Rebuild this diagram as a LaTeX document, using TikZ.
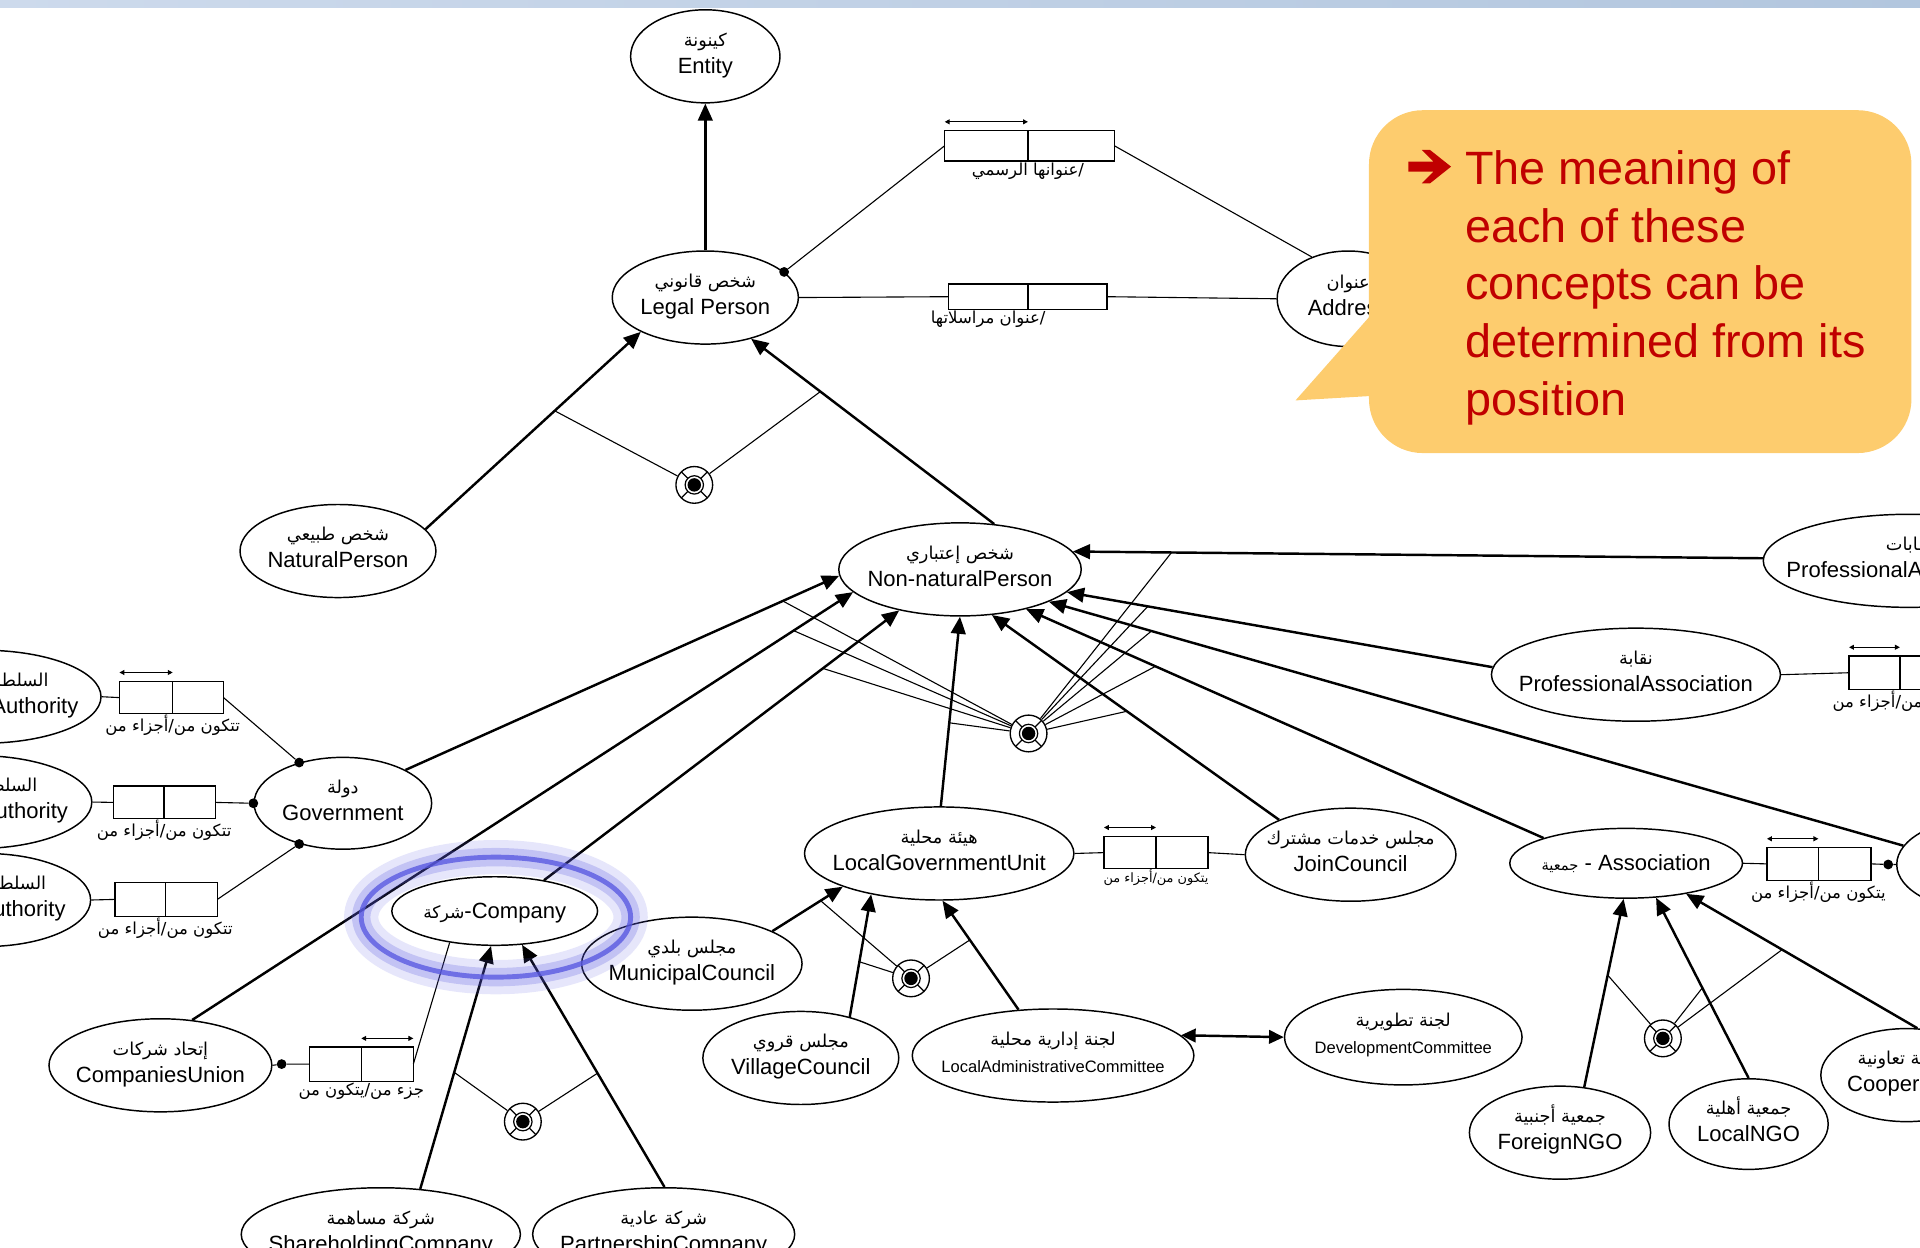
\documentclass[tikz,border=0pt]{standalone}
\usepackage{fontspec}
\setmainfont{Liberation Sans}
\newfontfamily\arfont[Script=Arabic]{DejaVu Sans}
\usetikzlibrary{shapes,arrows.meta,positioning}
\TeXXeTstate=1
\definecolor{globo}{RGB}{253,204,110}
\definecolor{rojo}{RGB}{192,0,0}
\definecolor{glowblue}{RGB}{90,90,225}
\newcommand{\artxt}[2][14.5]{{\arfont\fontsize{#1}{#1}\selectfont\beginR #2\endR}}
\newcommand{\cname}[3][18]{\smash{\makebox[0pt]{\raisebox{-3pt}{\begin{tabular}{@{}c@{}}\artxt{#2}\\[2pt]\fontsize{#1}{20}\selectfont #3\end{tabular}}}}}
\newcommand{\cone}[1]{\smash{\makebox[0pt]{\raisebox{-6pt}{#1}}}}

\begin{document}
\begin{tikzpicture}[x=1pt,y=-1pt]

    \tikzset{concept/.style = {ellipse,draw,line width=1.2pt,fill=white,inner sep=0pt,font=\fontsize{18}{20}\selectfont}}
    \tikzset{cell/.style = {rectangle,draw,line width=1.1pt,fill=white,inner sep=0pt,outer sep=0pt}}
    \tikzset{attrlabel/.style = {inner sep=1pt,font=\arfont\fontsize{13.5}{14}\selectfont}}
    \tikzset{isa/.style = {-{Triangle[length=14pt,width=12pt]},line width=2pt}}
    \tikzset{link/.style = {line width=0.9pt}}
    \tikzset{cardinal/.style = {{Triangle[length=4pt,width=4pt]}-{Triangle[length=4pt,width=4pt]},line width=0.9pt}}
    \tikzset{punto/.style = {circle,fill,inner sep=0pt,minimum size=8pt}}
    \tikzset{disjoint/.style = {circle,draw,fill=white,line width=1.1pt,minimum size=30pt,inner sep=0pt,
        path picture={
            \fill[black] (path picture bounding box.center) circle (5.5pt);
            \draw[black,line width=1pt] (path picture bounding box.center) circle (7.5pt);
            \foreach \a in {45,135,225,315}
                \draw[black,line width=1pt] ([shift={(\a:7.5pt)}]path picture bounding box.center)
                    -- ([shift={(\a:15pt)}]path picture bounding box.center);
        }}}

    \useasboundingbox (0,0) rectangle (1568,1019);
    \clip (0,0) rectangle (1568,1019);
    \shade [left color={rgb,255:red,205;green,218;blue,236}, middle color={rgb,255:red,150;green,178;blue,208},
        right color={rgb,255:red,178;green,198;blue,222}] (0,0) rectangle (1568,6);

    %top of the hierarchy
    \node [concept, minimum width=122, minimum height=76] (entity) at (576,46) {\cname{كينونة}{Entity}};
    \node [concept, minimum width=152, minimum height=76] (legal) at (576,243) {\cname{شخص قانوني}{Legal Person}};
    \node [concept, minimum width=116, minimum height=78] (address) at (1101,244) {\cname{عنوان}{Address}};
    \node [concept, minimum width=160, minimum height=76] (natural) at (276,450) {\cname{شخص طبيعي}{NaturalPerson}};
    \node [concept, minimum width=198, minimum height=76] (nonnat) at (784,465) {\cname{شخص إعتباري}{Non-naturalPerson}};

    %right column
    \node [concept, minimum width=238, minimum height=76] (profassocs) at (1559,458) {\cname{نقابات}{ProfessionalAssociations}};
    \node [concept, minimum width=236, minimum height=76] (profassoc) at (1336,551) {\cname{نقابة}{ProfessionalAssociation}};
    \node [concept, minimum width=172, minimum height=76] (joincouncil) at (1103,698) {\cname{مجلس خدمات مشترك}{JoinCouncil}};
    \node [concept, minimum width=190, minimum height=57] (association) at (1328,705) {\cone{\artxt[12]{جمعية} - Association}};
    \node [concept, minimum width=144, minimum height=76] (rightunion) at (1621,706) {};
    \node [concept, minimum width=148, minimum height=76] (foreign) at (1274,925) {\cname{جمعية أجنبية}{ForeignNGO}};
    \node [concept, minimum width=130, minimum height=74] (localngo) at (1428,918) {\cname{جمعية أهلية}{LocalNGO}};
    \node [concept, minimum width=140, minimum height=76] (coop) at (1557,878) {\cname{جمعية تعاونية}{Cooperative}};

    %government side
    \node [concept, minimum width=145, minimum height=75] (gov) at (280,656) {\cname{دولة}{Government}};
    \node [concept, minimum width=193, minimum height=76] (auth1) at (-14,569) {\cname{السلطة التشريعية}{LegislativeAuthority}};
    \node [concept, minimum width=188, minimum height=76] (auth2) at (-19,655) {\cname{السلطة التنفيذية}{ExecutiveAuthority}};
    \node [concept, minimum width=172, minimum height=76] (auth3) at (-12,735) {\cname{السلطة القضائية}{JudicialAuthority}};

    %companies
    \node [concept, minimum width=168, minimum height=56] (company) at (404,744) {\cone{\artxt[14]{شركة}-Company}};
    \node [concept, minimum width=182, minimum height=76] (compunion) at (131,870) {\cname{إتحاد شركات}{CompaniesUnion}};
    \node [concept, minimum width=228, minimum height=76] (share) at (311,1008) {\cname{شركة مساهمة}{ShareholdingCompany}};
    \node [concept, minimum width=214, minimum height=76] (partner) at (542,1008) {\cname{شركة عادية}{PartnershipCompany}};

    %local government
    \node [concept, minimum width=180, minimum height=76] (municipal) at (565,787) {\cname{مجلس بلدي}{MunicipalCouncil}};
    \node [concept, minimum width=220, minimum height=76] (lgu) at (767,697) {\cname{هيئة محلية}{LocalGovernmentUnit}};
    \node [concept, minimum width=160, minimum height=76] (village) at (654,864) {\cname{مجلس قروي}{VillageCouncil}};
    \node [concept, minimum width=230, minimum height=76] (localadmin) at (860,862) {\cname[13.5]{لجنة إدارية محلية}{LocalAdministrativeCommittee}};
    \node [concept, minimum width=194, minimum height=78] (devcomm) at (1146,847) {\cname[13.5]{لجنة تطويرية}{DevelopmentCommittee}};

    %is-a arrows
    \draw [isa] (legal) -- (entity);
    \draw [isa] (natural.14) -- coordinate[pos=0.6] (n1) (legal.208);
    \draw [isa] (nonnat.53) -- coordinate[pos=0.715] (n2) (legal.318);
    \draw [isa] (profassocs.179) -- coordinate[pos=0.857] (f9) (nonnat.9);
    \draw [isa] (profassoc.177) -- coordinate[pos=0.81] (f8) (nonnat.348);
    \draw [isa] (rightunion.167) -- coordinate[pos=0.88] (f7) (nonnat.340);
    \draw [isa] (association.163) -- coordinate[pos=0.75] (f6) (nonnat.329);
    \draw [isa] (joincouncil.154) -- coordinate[pos=0.53] (f5) (nonnat.305);
    \draw [isa] (lgu.88) -- coordinate[pos=0.44] (f4) (nonnat.270);
    \draw [isa] (company.32) -- coordinate[pos=0.785] (f3) (nonnat.214);
    \draw [isa] (compunion.55) -- coordinate[pos=0.91] (f2) (nonnat.192);
    \draw [isa] (gov.28) -- coordinate[pos=0.87] (f1) (nonnat.183);
    \draw [isa] (municipal.22) -- coordinate[pos=0.685] (m1) (lgu.199);
    \draw [isa] (village.40) -- coordinate[pos=0.45] (m2) (lgu.211);
    \draw [isa] (localadmin.127) -- coordinate[pos=0.64] (m3) (lgu.274);
    \draw [isa, {Triangle[length=12pt,width=11pt]}-{Triangle[length=12pt,width=11pt]}] (localadmin.9) -- (devcomm.west);
    \draw [isa] (foreign.62) -- coordinate[pos=0.595] (g1) (association.266);
    \draw [isa] (localngo.90) -- coordinate[pos=0.5] (g2) (association.311);
    \draw [isa] (coop.77) -- coordinate[pos=0.585] (g3) (association.333);
    \draw [isa] (share.49) -- coordinate[pos=0.48] (c1) (company.264);
    \draw [isa] (partner.89) -- coordinate[pos=0.47] (c2) (company.309);

    %disjoint marks
    \node [disjoint] (d1) at (567,396) {};
    \node [disjoint] (d2) at (840,599) {};
    \node [disjoint] (d3) at (427,916) {};
    \node [disjoint] (d4) at (744,799) {};
    \node [disjoint] (d5) at (1358,848) {};
    \draw [link] (n1) -- (d1) -- (n2);
    \draw [link] (c1) -- (d3) -- (c2);
    \draw [link] (m1) -- (d4) -- (m3);
    \draw [link] (m2) -- (d4);
    \draw [link] (g1) -- (d5) -- (g2);
    \draw [link] (g3) -- (d5);
    \foreach \p in {f1,f2,f3,f4,f5,f6,f7,f8,f9}
        \draw [link] (\p) -- (d2);

    %addresses of the legal person
    \node [cell, minimum width=68, minimum height=25] (b1a) at (805.5,119) {};
    \node [cell, minimum width=70.5, minimum height=25, right=0pt of b1a] (b1b) {};
    \draw [cardinal] ([yshift=7pt]b1a.north west) -- ([yshift=7pt]b1a.north east);
    \node [attrlabel, below=0pt of b1a.south east] (lb1) {\beginR /عنوانها الرسمي\endR};
    \node [cell, minimum width=65, minimum height=21] (b2a) at (807,242.3) {};
    \node [cell, minimum width=64.5, minimum height=21, right=0pt of b2a] (b2b) {};
    \node [attrlabel, below=0pt of b2a.south] (lb2) {\beginR /عنوان مراسلاتها\endR};
    \node [punto] (dotlegal) at (legal.18) {};
    \draw [link] (dotlegal) -- (b1a.west);
    \draw [link] (b1b.east) -- (address.131);
    \draw [link] (legal.east) -- (b2a.west);
    \draw [link] (b2b.east) -- (address.west);

    %government is made of the authorities
    \node [cell, minimum width=43.5, minimum height=26] (a1a) at (119.3,569.7) {};
    \node [cell, minimum width=41.5, minimum height=26, right=0pt of a1a] (a1b) {};
    \draw [cardinal] ([yshift=7.5pt]a1a.north west) -- ([yshift=7.5pt]a1a.north east);
    \node [attrlabel, below=0pt of a1a.south east] (la1) {\beginR تتكون من/أجزاء من\endR};
    \node [cell, minimum width=41.5, minimum height=26.7] (a2a) at (113.3,655.3) {};
    \node [cell, minimum width=42, minimum height=26.7, right=0pt of a2a] (a2b) {};
    \node [attrlabel, below=0pt of a2a.south east] (la2) {\beginR تتكون من/أجزاء من\endR};
    \node [cell, minimum width=41, minimum height=27.7] (a3a) at (114.5,734.5) {};
    \node [cell, minimum width=42.5, minimum height=27.7, right=0pt of a3a] (a3b) {};
    \node [attrlabel, below=0pt of a3a.south east] (la3) {\beginR تتكون من/أجزاء من\endR};
    \node [punto] (gd1) at (gov.137) {};
    \node [punto] (gd2) at (gov.west) {};
    \node [punto] (gd3) at (gov.223) {};
    \draw [link] (auth1.east) -- (a1a.west);
    \draw [link] (a1b.east) -- (gd1);
    \draw [link] (auth2.east) -- (a2a.west);
    \draw [link] (a2b.east) -- (gd2);
    \draw [link] (auth3.east) -- (a3a.west);
    \draw [link] (a3b.east) -- (gd3);

    %companies union
    \node [cell, minimum width=42.5, minimum height=28] (cua) at (273.8,869) {};
    \node [cell, minimum width=42.5, minimum height=28, right=0pt of cua] (cub) {};
    \draw [cardinal] ([yshift=7pt]cub.north west) -- ([yshift=7pt]cub.north east);
    \node [attrlabel, below=0pt of cua.south east] (lcu) {\beginR جزء من/يتكون من\endR};
    \node [punto] (cud) at (230,869) {};
    \draw [link] (compunion.east) -- (cud) -- (cua.west);
    \draw [link] (company.215) -- (cub.east);

    %local government unit and join council
    \node [cell, minimum width=42.5, minimum height=26] (lga) at (922.8,696.3) {};
    \node [cell, minimum width=42.5, minimum height=26, right=0pt of lga] (lgb) {};
    \draw [cardinal] ([yshift=7.5pt]lga.north west) -- ([yshift=7.5pt]lga.north east);
    \node [attrlabel, font=\arfont\fontsize{10.5}{11}\selectfont, below=0pt of lga.south east] (llg) {\beginR يتكون من/أجزاء من\endR};
    \draw [link] (lgu.east) -- (lga.west);
    \draw [link] (lgb.east) -- (joincouncil.west);

    %association
    \node [cell, minimum width=42, minimum height=27] (asa) at (1464,705.5) {};
    \node [cell, minimum width=43, minimum height=27, right=0pt of asa] (asb) {};
    \draw [cardinal] ([yshift=7pt]asa.north west) -- ([yshift=7pt]asa.north east);
    \node [attrlabel, below=0pt of asa.south east] (las) {\beginR يتكون من/أجزاء من\endR};
    \node [punto] (asd) at (1542,706) {};
    \draw [link] (association.east) -- (asa.west);
    \draw [link] (asb.east) -- (asd) -- (rightunion.west);

    %professional association
    \node [cell, minimum width=41.5, minimum height=27.6] (paa) at (1530.8,549.4) {};
    \node [cell, minimum width=41.5, minimum height=27.6, right=0pt of paa] (pab) {};
    \draw [cardinal] ([yshift=7pt]paa.north west) -- ([yshift=7pt]paa.north east);
    \node [attrlabel, below=0pt of paa.south east] (lpa) {\beginR تتكون من/أجزاء من\endR};
    \draw [link] (profassoc.east) -- (paa.west);

    %highlight round the company
    \draw [glowblue, opacity=0.15, line width=28pt] (405,749) ellipse [x radius=110pt, y radius=49pt];
    \draw [glowblue, opacity=0.25, line width=15pt] (405,749) ellipse [x radius=110pt, y radius=49pt];
    \draw [glowblue, opacity=0.8, line width=4pt] (405,749) ellipse [x radius=110pt, y radius=49pt];

    %callout
    \fill [globo, rounded corners=44pt] (1118,90) rectangle (1561,370);
    \fill [globo] (1126,250) -- (1058,327) -- (1126,323) -- cycle;
    \fill [rojo, shift={(1167.6,136.1)}] (-17.4,-4.1) -- (3,-4.1) -- (-6.5,-13.6) -- (0.3,-13.6) -- (17.4,0)
        -- (0.3,13.6) -- (-6.5,13.6) -- (3,4.1) -- (-17.4,4.1) -- cycle;
    \node [anchor=north west, inner sep=0pt, align=left, text=rojo, font=\fontsize{38.2}{47.2}\selectfont] (nota)
        at (1196.5,122.6) {The meaning of\\each of these\\concepts can be\\determined from its\\position};

\end{tikzpicture}
\end{document}
